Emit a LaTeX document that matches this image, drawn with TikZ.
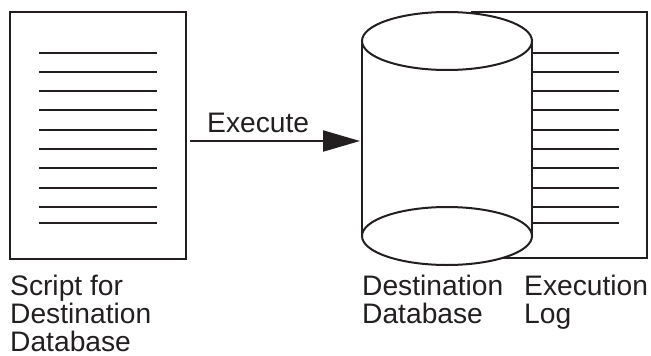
\documentclass[tikz,border=0pt]{standalone}
\usepackage{fontspec}
\setmainfont{Liberation Sans}
\usetikzlibrary{arrows.meta,shapes.geometric}
\definecolor{inkdark}{HTML}{231F20}
\tikzset{
  sheet/.style={draw=inkdark,fill=white,rectangle,line width=2pt,inner sep=0pt,outer sep=0pt},
  drumend/.style={draw=inkdark,fill=white,ellipse,line width=2pt,inner sep=0pt,outer sep=0pt,minimum width=170pt,minimum height=58pt},
  drumbody/.style={fill=white,rectangle,inner sep=0pt,outer sep=0pt,minimum width=170pt,minimum height=195pt},
  caption/.style={anchor=north west,align=left,inner sep=0pt,text=inkdark,font=\fontsize{28.2pt}{28pt}\selectfont},
  textline/.style={draw=inkdark,line width=2pt},
}
\begin{document}
\begin{tikzpicture}[x=1pt,y=-1pt,>={Triangle[length=37pt,width=21pt]}]
\useasboundingbox (0,0) rectangle (651,356);

\node[sheet,minimum width=176pt,minimum height=247pt] (scriptdoc) at (98,135.5) {};
\node[sheet,minimum width=175pt,minimum height=246pt] (logdoc) at (559.5,135) {};

\foreach \ypos in {53,72,91,110,129.5,149,168,187.5,206.5,223} {
  \draw[textline] (39,\ypos) -- (157,\ypos);
  \draw[textline] (532,\ypos) -- (619,\ypos);
}

\node[drumbody] (destbody) at (447,138.5) {};
\node[drumend] (desttop) at (447,41) {};
\node[drumend] (destbottom) at (447,236) {};
\draw[sheet] (destbody.north west) -- (destbody.south west);
\draw[sheet] (destbody.north east) -- (destbody.south east);

\coordinate (execlevel) at (0,141);
\draw[->,draw=inkdark,fill=inkdark,line width=2pt,shorten <=4pt,shorten >=2pt] (scriptdoc.east |- execlevel) -- (destbody.west |- execlevel);

\node[caption] (execlabel) at (207,113) {Execute};
\node[caption] (scriptlabel) at (10,274.5) {Script for\\Destination\\Database};
\node[caption] (destlabel) at (362,274.5) {Destination\\Database};
\node[caption] (loglabel) at (524,274.5) {Execution\\Log};
\end{tikzpicture}
\end{document}
